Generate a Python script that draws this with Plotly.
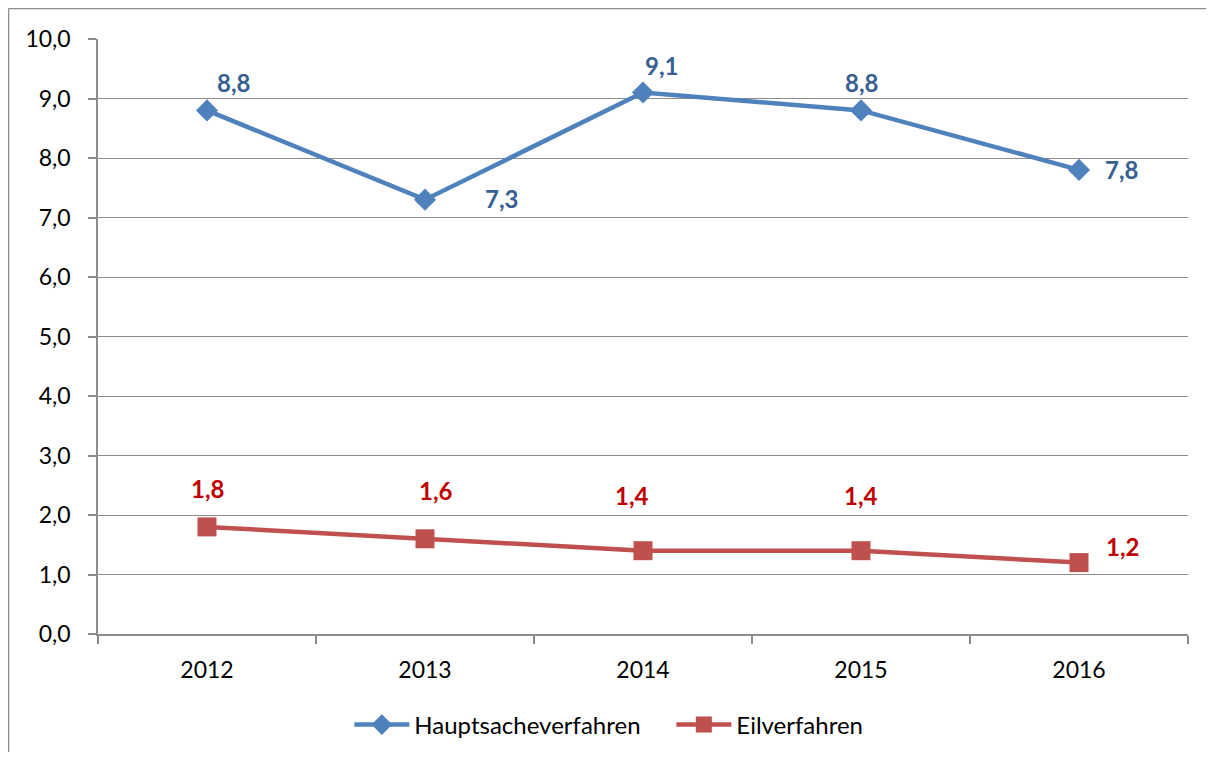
import plotly.graph_objects as go

years = ["2012", "2013", "2014", "2015", "2016"]
haupt = [8.8, 7.3, 9.1, 8.8, 7.8]
eil = [1.8, 1.6, 1.4, 1.4, 1.2]

# label offsets in pixels (x, y) relative to the points
haupt_offsets = [(26, 28), (76, 1), (18, 27), (0, 28), (42, 0)]
eil_offsets = [(0, 38), (11, 48), (-11, 55), (0, 55), (43, 16)]

BLUE = "#4F81BD"
RED = "#C0504D"
BLUE_TXT = "#376092"
RED_TXT = "#C00000"
GRID = "#8C8C8C"
FONT = "Lato"


def fmt(v):
    return "{:.1f}".format(v).replace(".", ",")


fig = go.Figure()

fig.add_trace(go.Scatter(
    x=years, y=haupt, name="Hauptsacheverfahren", mode="lines+markers",
    line=dict(color=BLUE, width=4.5),
    marker=dict(symbol="diamond", size=17, color=BLUE),
))
fig.add_trace(go.Scatter(
    x=years, y=eil, name="Eilverfahren", mode="lines+markers",
    line=dict(color=RED, width=4.5),
    marker=dict(symbol="square", size=19, color=RED),
))

# data labels (category axis -> position by index)
for i, (v, (dx, dy)) in enumerate(zip(haupt, haupt_offsets)):
    fig.add_annotation(x=i, y=v, text="<b>" + fmt(v) + "</b>", showarrow=False,
                       xshift=dx, yshift=dy,
                       font=dict(family=FONT, size=24, color=BLUE_TXT))
for i, (v, (dx, dy)) in enumerate(zip(eil, eil_offsets)):
    fig.add_annotation(x=i, y=v, text="<b>" + fmt(v) + "</b>", showarrow=False,
                       xshift=dx, yshift=dy,
                       font=dict(family=FONT, size=24, color=RED_TXT))

# outer chart frame: only the top and left edges are inside the page,
# kept within the figure so nothing overflows
frame_left = -89.5 / 1090
frame_top = 1 + 30.5 / 595
fig_bottom = -118 / 595
fig_right = 1 + 18 / 1090
fig.add_shape(type="line", xref="paper", yref="paper",
              x0=frame_left, x1=frame_left, y0=fig_bottom, y1=frame_top,
              line=dict(color="#8C8C8C", width=1.5), layer="below")
fig.add_shape(type="line", xref="paper", yref="paper",
              x0=frame_left, x1=fig_right, y0=frame_top, y1=frame_top,
              line=dict(color="#8C8C8C", width=1.5), layer="below")

fig.update_xaxes(
    type="category", range=[-0.5, 4.5],
    showgrid=False, showline=True, linecolor=GRID, linewidth=1.5,
    ticks="outside", tickson="boundaries", ticklen=8, tickcolor=GRID, tickwidth=1.5,
    tickfont=dict(family=FONT, size=23, color="black"),
    ticklabelstandoff=15,
)
fig.update_yaxes(
    range=[0, 10], dtick=1, tickformat=".1f",
    showgrid=True, gridcolor=GRID, gridwidth=1.2,
    showline=True, linecolor=GRID, linewidth=1.5, zeroline=False,
    ticks="outside", ticklen=8, tickcolor=GRID, tickwidth=1.5,
    tickfont=dict(family=FONT, size=23, color="black"),
    ticklabelstandoff=13,
)

fig.update_layout(
    width=1198, height=744,
    margin=dict(l=90, r=18, t=31, b=118),
    plot_bgcolor="white", paper_bgcolor="white",
    separators=",.",
    showlegend=True,
    legend=dict(orientation="h", x=0.526, xanchor="center",
                yref="container", y=0.0363, yanchor="middle",
                font=dict(family=FONT, size=24, color="black"),
                itemwidth=55, entrywidth=252, tracegroupgap=0),
)

fig.write_html("out.html")
